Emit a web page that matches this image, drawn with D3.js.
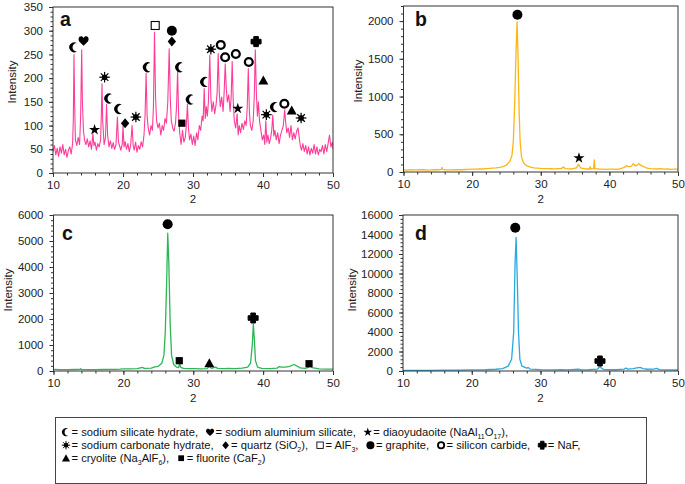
<!DOCTYPE html>
<html><head><meta charset="utf-8">
<script src="https://cdn.jsdelivr.net/npm/d3@7"></script>
<style>body{margin:0;background:#fff}svg{display:block;font-family:"Liberation Sans",Arial,sans-serif}</style>
</head><body><svg id="c" width="685" height="484"></svg>
<script>
// ---------------- DATA ----------------
const xTicks=[10,20,30,40,50];
const xLabel="2";
const yLabel="Intensity";
const panelLabels=["a","b","c","d"];
const yTicksA=[0,50,100,150,200,250,300,350];
const yTicksB=[0,500,1000,1500,2000];
const yTicksC=[0,1000,2000,3000,4000,5000,6000];
const yTicksD=[0,2000,4000,6000,8000,10000,12000,14000,16000];

const seriesA=[[10.0,45],[10.2,58],[10.4,38],[10.6,52],[10.8,35],[11.0,55],[11.2,42],[11.4,60],[11.6,38],[11.8,50],[12.0,33],[12.2,48],[12.4,55],[12.6,40],[12.8,62],[12.9,110],[13.0,250],[13.1,140],[13.2,70],[13.4,58],[13.6,75],[13.8,60],[13.95,120],[14.1,260],[14.2,150],[14.35,90],[14.5,70],[14.7,60],[14.9,72],[15.1,55],[15.3,68],[15.5,50],[15.7,82],[15.85,58],[16.0,65],[16.2,48],[16.4,62],[16.6,55],[16.8,70],[16.9,120],[17.0,188],[17.1,110],[17.3,60],[17.5,75],[17.65,145],[17.8,80],[18.0,55],[18.2,68],[18.4,52],[18.6,64],[18.8,50],[19.0,60],[19.2,118],[19.35,65],[19.5,58],[19.7,48],[19.9,62],[20.0,100],[20.15,55],[20.3,66],[20.5,50],[20.7,62],[20.9,45],[21.1,60],[21.3,100],[21.45,58],[21.6,48],[21.8,65],[22.0,44],[22.2,58],[22.4,50],[22.6,66],[22.8,55],[23.0,80],[23.15,120],[23.3,210],[23.45,120],[23.6,95],[23.8,80],[24.0,100],[24.2,90],[24.35,140],[24.5,297],[24.65,160],[24.8,110],[25.0,95],[25.2,105],[25.4,80],[25.6,100],[25.8,90],[26.0,115],[26.2,105],[26.4,150],[26.6,262],[26.75,160],[26.9,110],[27.1,95],[27.3,88],[27.5,105],[27.65,140],[27.8,215],[27.95,120],[28.1,85],[28.3,60],[28.5,90],[28.7,65],[28.9,75],[29.05,100],[29.2,145],[29.35,95],[29.5,70],[29.7,82],[29.9,60],[30.1,78],[30.3,58],[30.5,85],[30.7,70],[30.9,100],[31.1,90],[31.3,120],[31.45,110],[31.6,178],[31.75,115],[31.9,140],[32.05,120],[32.2,150],[32.4,248],[32.55,160],[32.7,130],[32.9,150],[33.1,125],[33.3,145],[33.45,170],[33.6,252],[33.75,170],[33.9,140],[34.1,160],[34.3,130],[34.45,170],[34.6,230],[34.75,180],[34.9,150],[35.1,165],[35.3,130],[35.45,160],[35.6,235],[35.75,150],[35.9,110],[36.1,95],[36.3,125],[36.45,80],[36.6,100],[36.8,85],[37.0,105],[37.2,92],[37.4,110],[37.6,100],[37.75,140],[37.9,220],[38.05,130],[38.2,100],[38.4,90],[38.6,110],[38.75,160],[38.9,260],[39.05,170],[39.2,120],[39.35,150],[39.5,110],[39.7,90],[39.9,70],[40.1,80],[40.25,60],[40.4,110],[40.55,65],[40.7,80],[40.9,62],[41.1,75],[41.25,90],[41.4,122],[41.55,78],[41.7,90],[41.9,70],[42.1,85],[42.3,62],[42.5,80],[42.7,90],[42.9,100],[43.1,133],[43.25,105],[43.4,85],[43.6,95],[43.8,75],[44.0,100],[44.2,70],[44.4,85],[44.6,72],[44.8,88],[45.0,95],[45.15,78],[45.3,60],[45.5,48],[45.7,62],[45.9,45],[46.1,58],[46.3,40],[46.5,55],[46.7,38],[46.9,52],[47.1,42],[47.3,60],[47.5,40],[47.7,55],[47.9,38],[48.1,50],[48.3,45],[48.5,58],[48.7,40],[48.9,60],[49.1,45],[49.3,62],[49.5,80],[49.7,55],[49.9,65],[50.0,50]];

const seriesB=[[10,30],[10.5,26],[11,32],[11.5,27],[12,28],[12.5,31],[13,30],[13.5,26],[14,27],[14.5,30],[15,30],[15.5,35],[15.6,60],[15.7,35],[16,30],[16.5,27],[17,28],[17.5,30],[18,32],[18.5,30],[19,33],[19.5,36],[20,38],[20.5,37],[21,42],[21.5,40],[22,45],[22.5,47],[23,52],[23.5,55],[24,60],[24.5,70],[25,90],[25.5,140],[25.8,220],[26.0,400],[26.2,900],[26.4,1600],[26.55,1990],[26.7,1500],[26.85,800],[27.0,400],[27.2,200],[27.5,120],[28,80],[28.5,65],[29,55],[29.5,52],[30,48],[30.5,46],[31,45],[31.5,43],[32,42],[32.5,44],[33,45],[33.3,65],[33.6,45],[34,42],[34.5,40],[35.2,55],[35.5,100],[35.8,55],[36.5,40],[37.1,40],[37.2,70],[37.3,40],[37.7,45],[37.8,160],[37.9,45],[38.5,40],[39,38],[39.5,35],[40,37],[40.5,38],[41,36],[41.5,40],[42.2,60],[42.5,85],[42.8,70],[43.2,75],[43.5,110],[43.8,80],[44.1,95],[44.3,110],[44.6,85],[45,70],[45.5,50],[46,45],[46.5,42],[47,40],[47.5,44],[48,38],[48.5,40],[49,35],[49.5,37],[50,38]];

const seriesC=[[10,60],[11,55],[12,55],[13,58],[13.8,60],[13.9,90],[14,60],[15,55],[16,55],[17,58],[18,60],[19,65],[19.5,70],[20,80],[21,85],[22,90],[22.7,140],[23,100],[24,110],[24.5,160],[25,180],[25.5,300],[25.8,600],[26.0,1500],[26.2,3500],[26.35,5300],[26.5,4200],[26.7,1800],[26.9,600],[27.2,250],[27.6,150],[27.9,130],[28.05,280],[28.2,140],[28.6,100],[29.5,90],[30.3,95],[31,85],[32.0,90],[32.3,180],[32.6,100],[33.2,150],[33.5,100],[34.5,90],[35,100],[36,95],[37,110],[37.8,150],[38.2,300],[38.45,1000],[38.6,1800],[38.75,1200],[38.9,400],[39.2,150],[39.8,100],[41,90],[42,110],[42.3,170],[42.6,150],[43.2,150],[43.8,180],[44.4,250],[44.8,200],[45.3,120],[46,100],[46.5,140],[46.7,190],[47,130],[48,80],[49,70],[50,70]];

const seriesD=[[10,60],[12,65],[14,70],[16,80],[18,90],[20,110],[22,130],[23.5,180],[24.5,250],[25.3,500],[25.8,1200],[26.1,4000],[26.3,11000],[26.45,13700],[26.6,10000],[26.8,4000],[27.0,1200],[27.3,500],[28.0,300],[28.2,350],[28.5,200],[30,150],[32,120],[33,150],[34,120],[35.5,180],[36,120],[37,130],[38.3,200],[38.55,380],[38.7,450],[38.9,250],[39.3,150],[41,130],[42.2,200],[42.4,300],[42.7,200],[43.5,250],[44.2,350],[44.5,380],[44.9,250],[45.5,180],[46.5,200],[46.9,260],[47.3,150],[48.5,110],[50,100]];

const markersA=[["crescent",13.04,265],["heart",14.37,279],["star",15.94,91],["asterisk",17.37,202],["crescent",18.04,157],["crescent",19.46,135],["diamond",20.3,105],["asterisk",21.84,118],["crescent",23.55,223],["squareOpen",24.6,311],["circle",26.98,300],["diamond",26.98,277],["crescent",28.17,223],["square",28.41,105],["crescent",29.69,155],["crescent",31.74,192],["asterisk",32.55,261],["ring",33.97,270],["ring",34.59,244],["ring",36.12,251],["star",36.4,136],["ring",37.97,234],["plus",39.01,277],["triangle",40.05,195],["asterisk",40.48,123],["crescent",41.72,139],["ring",43.05,146],["triangle",44.1,132],["asterisk",45.44,116]];
const markersB=[["circle",26.6,2083],["star",35.57,185]];
const markersC=[["circle",26.34,5642],["square",28.0,396],["triangle",32.3,296],["plus",38.57,2038],["square",46.57,281]];
const markersD=[["circle",26.33,14700],["plus",38.65,1025]];

const legendRows=[
 [["crescent","= sodium silicate hydrate,"],["heart","= sodium aluminium silicate,"],["star","= diaoyudaoite (NaAl{11}O{17}),"]],
 [["asterisk","= sodium carbonate hydrate,"],["diamond","= quartz (SiO{2}),"],["squareOpen","= AlF{3},"],["circle","= graphite,"],["ring","= silicon carbide,"],["plus","= NaF,"]],
 [["triangle","= cryolite (Na{3}AlF{6}),"],["square","= fluorite (CaF{2})"]]
];

// ---------------- DRAWING ----------------
const svg=d3.select("#c");
const FONT='"Liberation Sans",Arial,sans-serif';

function marker(g,type,cx,cy,s){
  const t=g.append("g").attr("transform",`translate(${cx},${cy}) scale(${s})`);
  switch(type){
    case "crescent": t.append("path").attr("d","M2.552,-4.3A5,5 0 1 0 2.552,4.3A4.3,4.3 0 1 1 2.552,-4.3Z").attr("fill","#000");break;
    case "heart": t.append("path").attr("d","M0,5C-1,3.5 -5.5,1 -5,-2C-4.5,-5 -1,-5 0,-2.5C1,-5 4.5,-5 5,-2C5.5,1 1,3.5 0,5Z").attr("fill","#000");break;
    case "star": t.append("path").attr("d",d3.symbol(d3.symbolStar,38)()).attr("fill","#000");break;
    case "asterisk":
      t.append("circle").attr("r",2.8).attr("fill","#000");
      for(let k=0;k<8;k++){const a=k*Math.PI/4;t.append("line").attr("x1",0).attr("y1",0).attr("x2",5.3*Math.cos(a)).attr("y2",5.3*Math.sin(a)).attr("stroke","#000").attr("stroke-width",1.2);}
      break;
    case "diamond": t.append("path").attr("d","M0,-5L4.2,0L0,5L-4.2,0Z").attr("fill","#000");break;
    case "squareOpen": t.append("rect").attr("x",-4).attr("y",-4).attr("width",8).attr("height",8).attr("fill","#fff").attr("stroke","#000").attr("stroke-width",1.1);break;
    case "circle": t.append("circle").attr("r",5).attr("fill","#000");break;
    case "ring": t.append("circle").attr("r",3.9).attr("fill","#fff").attr("stroke","#000").attr("stroke-width",2.3);break;
    case "plus": t.append("path").attr("d","M-2.3,-5H2.3V-2.3H5V2.3H2.3V5H-2.3V2.3H-5V-2.3H-2.3Z").attr("fill","#000").attr("stroke","#000").attr("stroke-width",1).attr("stroke-linejoin","round");break;
    case "triangle": t.append("path").attr("d","M0,-5L5,4L-5,4Z").attr("fill","#000");break;
    case "square": t.append("rect").attr("x",-3.6).attr("y",-3.6).attr("width",7.2).attr("height",7.2).attr("fill","#000");break;
  }
}

const panels=[
 {data:seriesA,marks:markersA,yt:yTicksA,ymax:350,minor:10,x0:53,x1:333,y0:7,y1:173,color:"#ff3d98",lw:1.1,lab:panelLabels[0],ylx:12,ylc:82,xlb:203,lx:60,ly:26},
 {data:seriesB,marks:markersB,yt:yTicksB,ymax:2200,minor:100,x0:403.5,x1:678,y0:6,y1:172,color:"#fbb616",lw:1.3,lab:panelLabels[1],ylx:358,ylc:81,xlb:203,lx:415,ly:26},
 {data:seriesC,marks:markersC,yt:yTicksC,ymax:6000,minor:200,x0:53.5,x1:333,y0:215,y1:371,color:"#2eb655",lw:1.3,lab:panelLabels[2],ylx:8,ylc:290,xlb:402,lx:62,ly:240},
 {data:seriesD,marks:markersD,yt:yTicksD,ymax:16000,minor:400,x0:403,x1:678,y0:215,y1:371,color:"#2aa9e0",lw:1.3,lab:panelLabels[3],ylx:352,ylc:290,xlb:402,lx:415,ly:240}
];

panels.forEach(p=>{
  const x=d3.scaleLinear().domain([10,50]).range([p.x0,p.x1]);
  const y=d3.scaleLinear().domain([0,p.ymax]).range([p.y1,p.y0]);
  const g=svg.append("g");
  const xMinor=d3.range(10,50.001,2);
  const yMinor=d3.range(0,p.ymax+0.001,p.minor);
  g.append("g").attr("transform",`translate(0,${p.y1})`).call(d3.axisBottom(x).tickValues(xMinor).tickSize(2.5).tickFormat(""))
   .call(a=>{a.select(".domain").remove();a.selectAll("text").remove();a.selectAll("line").attr("stroke","#333");});
  g.append("g").attr("transform",`translate(${p.x0},0)`).call(d3.axisLeft(y).tickValues(yMinor).tickSize(2.5).tickFormat(""))
   .call(a=>{a.select(".domain").remove();a.selectAll("text").remove();a.selectAll("line").attr("stroke","#333");});
  g.append("g").attr("transform",`translate(0,${p.y1})`).call(d3.axisBottom(x).tickValues(xTicks).tickSize(4).tickPadding(4).tickFormat(d3.format("d")))
   .call(a=>{a.select(".domain").remove();a.selectAll("line").attr("stroke","#333");a.selectAll("text").attr("font-size",11.5).attr("font-family",FONT).attr("fill","#222");});
  g.append("g").attr("transform",`translate(${p.x0},0)`).call(d3.axisLeft(y).tickValues(p.yt).tickSize(4).tickPadding(6).tickFormat(d3.format("d")))
   .call(a=>{a.select(".domain").remove();a.selectAll("line").attr("stroke","#333");a.selectAll("text").attr("font-size",11.5).attr("font-family",FONT).attr("fill","#222");});
  const clipId="clip"+p.lab;
  svg.append("clipPath").attr("id",clipId).append("rect").attr("x",p.x0).attr("y",p.y0).attr("width",p.x1-p.x0).attr("height",p.y1-p.y0);
  g.append("path").datum(p.data).attr("clip-path",`url(#${clipId})`).attr("fill","none").attr("stroke",p.color).attr("stroke-width",p.lw).attr("stroke-linejoin","round")
   .attr("d",d3.line().x(d=>x(d[0])).y(d=>y(d[1])));
  g.append("rect").attr("x",p.x0).attr("y",p.y0).attr("width",p.x1-p.x0).attr("height",p.y1-p.y0).attr("fill","none").attr("stroke","#333").attr("stroke-width",1);
  p.marks.forEach(m=>marker(g,m[0],x(m[1]),y(m[2]),1));
  g.append("text").attr("x",p.lx).attr("y",p.ly).attr("font-size",19.5).attr("font-weight","bold").attr("font-family",FONT).attr("fill","#111").text(p.lab);
  g.append("text").attr("transform",`translate(${p.ylx+4},${p.ylc}) rotate(-90)`).attr("text-anchor","middle").attr("font-size",11.5).attr("font-family",FONT).attr("fill","#222").text(yLabel);
  g.append("text").attr("x",(p.x0+p.x1)/2).attr("y",p.xlb).attr("text-anchor","middle").attr("font-size",11.5).attr("font-family",FONT).attr("fill","#222").text(xLabel);
});

// legend
const lg=svg.append("g");
lg.append("rect").attr("x",55.5).attr("y",417.5).attr("width",591).attr("height",66).attr("fill","#fff").attr("stroke","#444").attr("stroke-width",1);
const rowY=[436,449,462];
const LFS=11.2;
legendRows.forEach((row,ri)=>{
  let cx=62;
  row.forEach(([sym,label])=>{
    marker(lg,sym,cx+4,rowY[ri]-3.8,0.8);
    const t=lg.append("text").attr("x",cx+9.5).attr("y",rowY[ri]).attr("font-size",LFS).attr("font-family",FONT).attr("fill","#111");
    const parts=label.split(/(\{\d+\})/).filter(s=>s);
    let pend=0;
    parts.forEach(s=>{
      const m=s.match(/^\{(\d+)\}$/);
      if(m){t.append("tspan").attr("font-size",7).attr("dy",2.5-pend).text(m[1]);pend=2.5;}
      else{const ts=t.append("tspan").text(s);if(pend){ts.attr("dy",-pend);pend=0;}}
    });
    const w=t.node().getComputedTextLength();
    cx+=9.5+w+8;
  });
});
</script></body></html>
